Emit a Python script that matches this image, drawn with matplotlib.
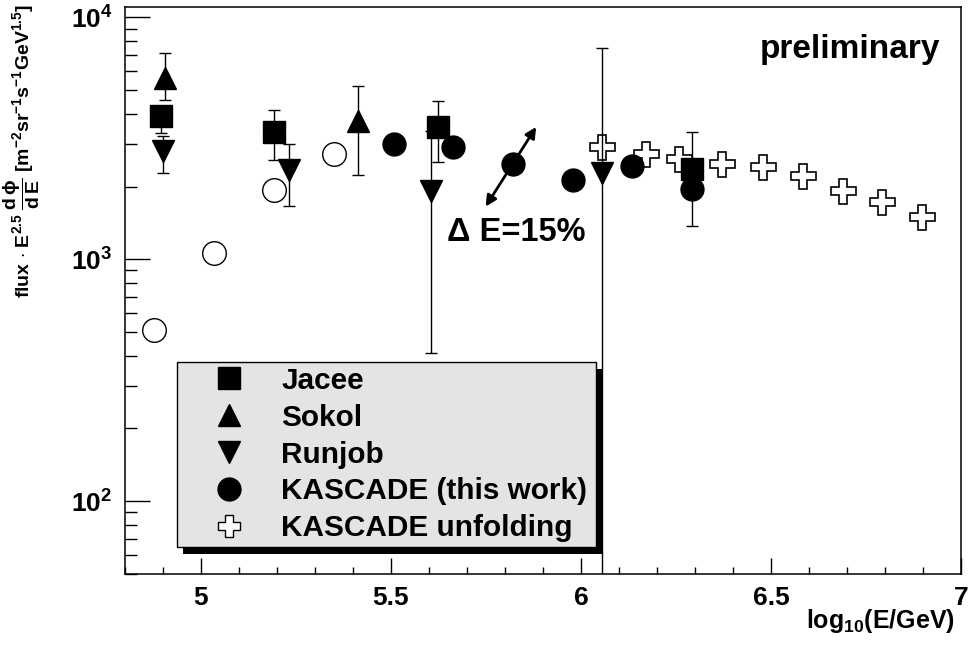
import matplotlib
matplotlib.use('Agg')
import matplotlib.pyplot as plt
from matplotlib.lines import Line2D
from matplotlib.patches import Rectangle
from matplotlib.transforms import IdentityTransform
from matplotlib.ticker import LogLocator, MultipleLocator, NullFormatter, FuncFormatter

plt.rcParams['font.family'] = ['Liberation Sans', 'DejaVu Sans']
plt.rcParams['font.weight'] = 'bold'
plt.rcParams['mathtext.fontset'] = 'custom'
plt.rcParams['mathtext.rm'] = 'Liberation Sans:bold'
plt.rcParams['mathtext.bf'] = 'Liberation Sans:bold'
plt.rcParams['mathtext.it'] = 'Liberation Sans:bold'
plt.rcParams['mathtext.sf'] = 'Liberation Sans:bold'
plt.rcParams['mathtext.default'] = 'rm'

# --- data (x = log10(E/GeV), y = flux * E^2.5) ---
jacee_x = [4.895, 5.191, 5.623, 6.293]
jacee_y = [3920, 3370, 3530, 2370]
jacee_lo = [3340, 2580, 2530, 1373]
jacee_hi = [4300, 4160, 4520, 3364]

sokol_x = [4.906, 5.413]
sokol_y = [5600, 3720]
sokol_lo = [4550, 2230]
sokol_hi = [7160, 5210]

runjob_x = [4.899, 5.231, 5.604, 6.056]
runjob_y = [2800, 2340, 1920, 2270]
runjob_lo = [2270, 1660, 411, 10]
runjob_hi = [3240, 2990, 3380, 7470]

kascade_x = [5.507, 5.663, 5.821, 5.979, 6.135, 6.293]
kascade_y = [3010, 2920, 2470, 2120, 2430, 1950]

unfold_x = [6.055, 6.170, 6.258, 6.372, 6.478, 6.583, 6.689, 6.793, 6.898]
unfold_y = [2900, 2720, 2590, 2490, 2410, 2210, 1920, 1720, 1500]

open_x = [4.877, 5.035, 5.191, 5.349]
open_y = [510, 1066, 1928, 2736]

# energy-scale arrow (dE = 15%)
arrow_start = (5.749, 1652)
arrow_end = (5.882, 3526)

fig = plt.figure(figsize=(9.69, 6.49), dpi=100)
ax = fig.add_axes([0.129, 0.1156, 0.8627, 0.8729])

def err(y, lo, hi):
    return [[v - l for v, l in zip(y, lo)], [h - v for v, h in zip(y, hi)]]

ebk = dict(color='k', ecolor='k', elinewidth=1.0, capsize=4, capthick=1.0, ls='none')

ax.plot(unfold_x, unfold_y, 'P', ms=18, mfc='white', mec='k', mew=1.2, zorder=2)
ax.plot(open_x, open_y, 'o', ms=17, mfc='white', mec='k', mew=1.0, zorder=3)
ax.errorbar(runjob_x, runjob_y, yerr=err(runjob_y, runjob_lo, runjob_hi), fmt='v', ms=16, zorder=3, **ebk)
ax.errorbar(sokol_x, sokol_y, yerr=err(sokol_y, sokol_lo, sokol_hi), fmt='^', ms=16, zorder=3, **ebk)
ax.errorbar(jacee_x, jacee_y, yerr=err(jacee_y, jacee_lo, jacee_hi), fmt='s', ms=16.5, zorder=3, **ebk)
ax.plot(kascade_x, kascade_y, 'o', ms=16.5, color='k', zorder=4)

ax.annotate('', xy=arrow_end, xytext=arrow_start,
            arrowprops=dict(arrowstyle='<|-|>', color='k', lw=2, mutation_scale=16,
                            shrinkA=0, shrinkB=0), zorder=4)
ax.text(5.648, 1187, 'Δ E=15%', fontsize=23.5, fontweight='bold', va='baseline')
ax.text(0.7596, 0.911, 'preliminary', transform=ax.transAxes, fontsize=24,
        fontweight='bold', va='baseline')

ax.set_yscale('log')
ax.set_xlim(4.8, 7.0)
ax.set_ylim(50, 11000)

ax.xaxis.set_major_locator(MultipleLocator(0.5))
ax.xaxis.set_minor_locator(MultipleLocator(0.1))
ax.xaxis.set_major_formatter(FuncFormatter(lambda v, p: f'{v:g}'))
ax.yaxis.set_major_locator(LogLocator(base=10))
ax.yaxis.set_minor_locator(LogLocator(base=10, subs=range(2, 10)))
ax.yaxis.set_minor_formatter(NullFormatter())

ax.tick_params(which='both', direction='in', top=False, right=False, width=1, labelsize=19)
ax.tick_params(axis='x', which='major', length=11.3, pad=9)
ax.tick_params(axis='x', which='minor', length=5.3)
ax.tick_params(axis='y', which='major', length=18, pad=9)
ax.tick_params(axis='y', which='minor', length=8.9)
for s in ax.spines.values():
    s.set_linewidth(1.1)

fig.text(955 / 969, 1 - 628 / 649, r'log$_{10}$(E/GeV)', fontsize=18, ha='right', va='baseline')
fig.text(22 / 969, 1 - 4 / 649,
         r'flux $\cdot$ E$^{2.5}$ $\dfrac{d\,\phi}{d\,E}$ [m$^{-2}$sr$^{-1}$s$^{-1}$GeV$^{1.5}$]',
         fontsize=14, rotation=90, ha='center', va='top')

handles = [
    Line2D([], [], marker='s', ls='none', color='k', ms=16.5),
    Line2D([], [], marker='^', ls='none', color='k', ms=16),
    Line2D([], [], marker='v', ls='none', color='k', ms=16),
    Line2D([], [], marker='o', ls='none', color='k', ms=16.5),
    Line2D([], [], marker='P', ls='none', mfc='white', mec='k', mew=1.0, ms=16),
]
labels = ['Jacee', 'Sokol', 'Runjob', 'KASCADE (this work)', 'KASCADE unfolding']
leg = ax.legend(handles, labels, loc='upper left', bbox_to_anchor=(0.0626, 0.0, 0.501, 0.3737),
                mode='expand', borderaxespad=0, fontsize=21.4, frameon=True, fancybox=False,
                facecolor='#e4e4e4', edgecolor='k', framealpha=1,
                borderpad=0.15, handlelength=3.15, handletextpad=0.2, labelspacing=0.3)
leg.get_frame().set_linewidth(1.0)
leg.set_zorder(6)

fig.canvas.draw()
bb = leg.get_frame().get_window_extent()
shadow = Rectangle((bb.x0 + 6, bb.y0 - 7), bb.width, bb.height, transform=IdentityTransform(),
                   facecolor='k', edgecolor='none', zorder=5.5, clip_on=False)
ax.add_artist(shadow)

fig.savefig('out.png', dpi=100)
